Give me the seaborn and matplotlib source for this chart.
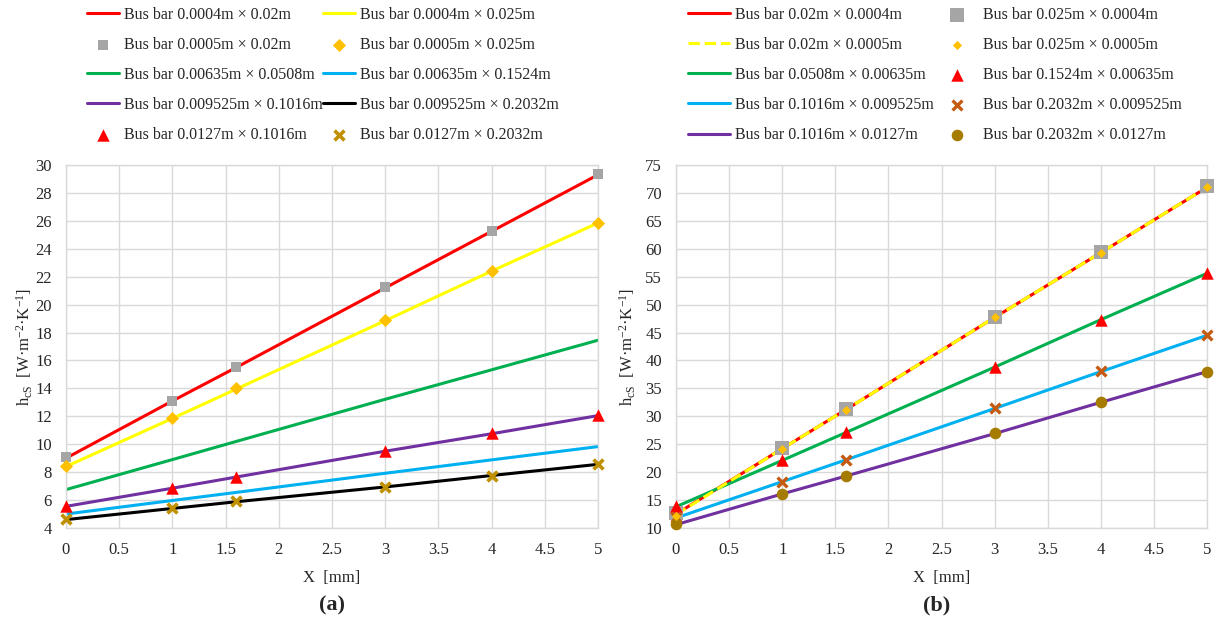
import numpy as np
import pandas as pd
import matplotlib
matplotlib.use("Agg")
import matplotlib.pyplot as plt
import seaborn as sns
from matplotlib.ticker import MultipleLocator, FuncFormatter

# ---------------- data ----------------
x_mm = [0, 1, 1.6, 3, 4, 5]

# panel (a)
a_labels = [
    "Bus bar 0.0004m × 0.02m", "Bus bar 0.0004m × 0.025m",
    "Bus bar 0.0005m × 0.02m", "Bus bar 0.0005m × 0.025m",
    "Bus bar 0.00635m × 0.0508m", "Bus bar 0.00635m × 0.1524m",
    "Bus bar 0.009525m × 0.1016m", "Bus bar 0.009525m × 0.2032m",
    "Bus bar 0.0127m × 0.1016m", "Bus bar 0.0127m × 0.2032m",
]
a_red_line = [9.0, 13.1, 15.5, 21.2, 25.25, 29.3]
a_yellow_line = [8.4, 11.85, 13.95, 18.85, 22.4, 25.85]
a_gray_sq = [9.1, 13.1, 15.55, 21.25, 25.3, 29.35]
a_orange_dia = [8.45, 11.87, 14.0, 18.87, 22.4, 25.83]
a_green_line = [6.75, 8.9, 10.2, 13.22, 15.33, 17.45]
a_cyan_line = [5.0, 5.97, 6.55, 7.92, 8.88, 9.83]
a_purple_line = [5.55, 6.85, 7.65, 9.5, 10.75, 12.05]
a_black_line = [4.6, 5.4, 5.88, 6.94, 7.76, 8.56]
a_red_tri = [5.6, 6.88, 7.66, 9.52, 10.77, 12.06]
a_gold_x = [4.62, 5.4, 5.9, 6.94, 7.76, 8.56]

# panel (b)
b_labels = [
    "Bus bar 0.02m × 0.0004m", "Bus bar 0.025m × 0.0004m",
    "Bus bar 0.02m × 0.0005m", "Bus bar 0.025m × 0.0005m",
    "Bus bar 0.0508m × 0.00635m", "Bus bar 0.1524m × 0.00635m",
    "Bus bar 0.1016m × 0.009525m", "Bus bar 0.2032m × 0.009525m",
    "Bus bar 0.1016m × 0.0127m", "Bus bar 0.2032m × 0.0127m",
]
b_red_line = [12.5, 24.2, 31.2, 47.7, 59.3, 71.0]
b_yellow_dash = [12.4, 24.2, 31.2, 47.7, 59.3, 71.0]
b_gray_sq = [12.6, 24.3, 31.3, 47.8, 59.4, 71.2]
b_orange_dia = [12.2, 24.2, 31.2, 47.7, 59.3, 71.1]
b_green_line = [13.8, 22.1, 27.1, 38.8, 47.3, 55.6]
b_red_tri = [13.9, 22.1, 27.2, 38.8, 47.3, 55.7]
b_cyan_line = [11.8, 18.3, 22.2, 31.4, 38.0, 44.5]
b_brown_x = [11.9, 18.2, 22.2, 31.4, 38.1, 44.5]
b_purple_line = [10.6, 16.1, 19.3, 26.9, 32.5, 38.0]
b_gold_circ = [10.7, 16.1, 19.3, 27.0, 32.5, 38.0]

x_ticks = [0, 0.5, 1, 1.5, 2, 2.5, 3, 3.5, 4, 4.5, 5]

# ---------------- style ----------------
sns.set_style("whitegrid")
plt.rcParams["font.family"] = ["Liberation Serif", "DejaVu Serif"]
plt.rcParams["mathtext.fontset"] = "custom"
plt.rcParams["mathtext.rm"] = "Liberation Serif"
plt.rcParams["mathtext.it"] = "Liberation Serif:italic"

GRID = "#D9D9D9"
TXT = "#262626"
LW = 2.2

fig = plt.figure(figsize=(12.15, 6.22), dpi=100)
axA = fig.add_axes([66/1215, 1-528/622, (598-66)/1215, (528-165)/622])
axB = fig.add_axes([676/1215, 1-528/622, (1207-676)/1215, (528-165)/622])


def line(ax, y, color, label, z=2, dashes=None):
    kw = dict(x=x_mm, y=y, color=color, linewidth=LW, ax=ax, label=label, zorder=z)
    if dashes is not None:
        kw["dashes"] = dashes
        kw["linestyle"] = "--"
    sns.lineplot(**kw)


def pts(ax, y, color, marker, s, label, lw=0, z=5):
    sns.scatterplot(x=x_mm, y=y, color=color, marker=marker, s=s, ax=ax,
                    label=label, linewidth=lw, edgecolor=color, zorder=z,
                    clip_on=False)


# panel a
line(axA, a_red_line, "#FF0000", a_labels[0])
line(axA, a_yellow_line, "#FFFF00", a_labels[1])
pts(axA, a_gray_sq, "#A5A5A5", "s", 60, a_labels[2])
pts(axA, a_orange_dia, "#FFC000", "D", 45, a_labels[3])
line(axA, a_green_line, "#00B050", a_labels[4])
line(axA, a_cyan_line, "#00B0F0", a_labels[5])
line(axA, a_purple_line, "#7030A0", a_labels[6])
line(axA, a_black_line, "#000000", a_labels[7])
pts(axA, a_red_tri, "#FF0000", "^", 80, a_labels[8])
pts(axA, a_gold_x, "#BF9000", "x", 50, a_labels[9], lw=2.6)

# panel b
line(axB, b_red_line, "#FF0000", b_labels[0], z=2)
pts(axB, b_gray_sq, "#A5A5A5", "s", 105, b_labels[1], z=4)
line(axB, b_yellow_dash, "#FFFF00", b_labels[2], z=3, dashes=(3, 2))
pts(axB, b_orange_dia, "#FFC000", "D", 22, b_labels[3], z=6)
line(axB, b_green_line, "#00B050", b_labels[4])
pts(axB, b_red_tri, "#FF0000", "^", 80, b_labels[5])
line(axB, b_cyan_line, "#00B0F0", b_labels[6])
pts(axB, b_brown_x, "#C55A11", "x", 50, b_labels[7], lw=2.4)
line(axB, b_purple_line, "#7030A0", b_labels[8])
pts(axB, b_gold_circ, "#A67C00", "o", 70, b_labels[9])

fmt = FuncFormatter(lambda v, p: f"{v:g}")
ylab = r"h$_{\mathrm{cS}}$  [W·m$^{-2}$·K$^{-1}$]"
for ax, (y0, y1, st), lp in ((axA, (4, 30, 2), 0), (axB, (10, 75, 5), 5)):
    ax.set_xlim(0, 5)
    ax.set_ylim(y0, y1)
    ax.set_xticks(x_ticks)
    ax.xaxis.set_major_formatter(fmt)
    ax.yaxis.set_major_locator(MultipleLocator(st))
    ax.grid(True, color=GRID, linewidth=1)
    for sp in ax.spines.values():
        sp.set_color(GRID)
        sp.set_linewidth(1)
    ax.tick_params(axis="both", length=0, labelsize=12, colors=TXT, pad=10)
    ax.set_xlabel("X  [mm]", fontsize=12, color=TXT, labelpad=9)
    ax.set_ylabel(ylab, fontsize=12, color=TXT, labelpad=lp)
    ax.set_axisbelow(True)
    if ax.get_legend() is not None:
        ax.get_legend().remove()


def reorder_handles(ax, labels):
    h, l = ax.get_legend_handles_labels()
    d = dict(zip(l, h))
    return [d[k] for k in labels]


hA = reorder_handles(axA, a_labels)
hB = reorder_handles(axB, b_labels)
order = [0, 2, 4, 6, 8, 1, 3, 5, 7, 9]
fig.legend([hA[i] for i in order], [a_labels[i] for i in order], ncol=2,
           loc="center", bbox_to_anchor=(323/1215, 1-75/622), frameon=False,
           fontsize=11.5, handlelength=2.0, handletextpad=0.3, columnspacing=0.05,
           labelspacing=0.88, borderpad=0, labelcolor=TXT)
fig.legend([hB[i] for i in order], [b_labels[i] for i in order], ncol=2,
           loc="center", bbox_to_anchor=(935/1215, 1-75/622), frameon=False,
           fontsize=11.5, handlelength=2.6, handletextpad=0.3, columnspacing=0.17,
           labelspacing=0.88, borderpad=0, labelcolor=TXT)

fig.text(332/1215, 1-605/622, "(a)", ha="center", va="center", fontsize=16,
         fontweight="bold", color=TXT)
fig.text(937/1215, 1-605/622, "(b)", ha="center", va="center", fontsize=16,
         fontweight="bold", color=TXT)

fig.savefig("out.png", dpi=100)
